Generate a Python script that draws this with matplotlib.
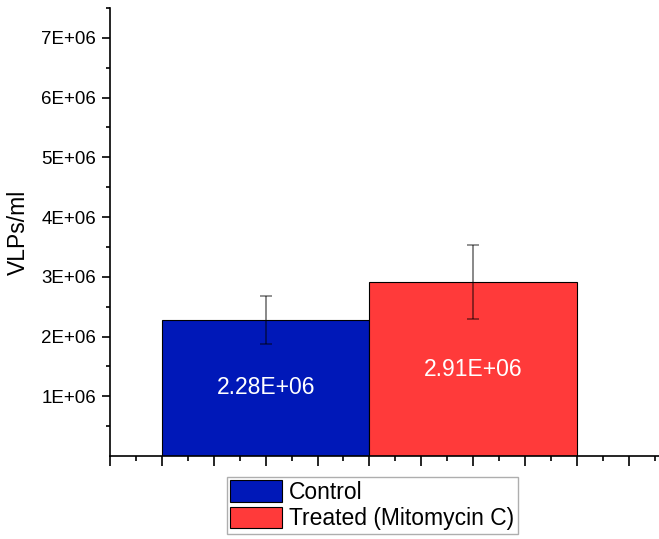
import matplotlib
matplotlib.use("Agg")
import matplotlib.pyplot as plt
from matplotlib.ticker import MultipleLocator, FixedLocator, FuncFormatter

plt.rcParams['font.family'] = ['Liberation Sans', 'DejaVu Sans']

# VLP counts per group
groups = ["Control", "Treated (Mitomycin C)"]
means = [2.28e6, 2.91e6]
errors = [0.40e6, 0.62e6]
labels = ["2.28E+06", "2.91E+06"]
colors = ["#0018B8", "#FF3A3A"]
positions = [1, 2]

fig = plt.figure(figsize=(6.59, 5.39), dpi=100)
ax = fig.add_axes([110/659, 83/539, 549/659, 448/539])

bars = ax.bar(positions, means, width=1.0, color=colors, edgecolor="black",
              linewidth=0.8, zorder=2)
for b, g in zip(bars, groups):
    b.set_label(g)

eb = ax.errorbar(positions, means, yerr=errors, fmt="none", ecolor=(0, 0, 0, 0.5),
                 elinewidth=1.3, capsize=4.5, capthick=1.2, zorder=3)
for cap in eb[1]:
    cap.set_color("#222222")

for x, m, t in zip(positions, means, labels):
    ax.text(x, m / 2, t, color="white", fontsize=16.5, ha="center", va="center", zorder=4)

ax.set_xlim(0.25, 0.25 + 549/207.5)
ax.set_ylim(0, 7.5e6)

ax.spines["top"].set_visible(False)
ax.spines["right"].set_visible(False)
ax.spines["left"].set_linewidth(1.2)
ax.spines["bottom"].set_linewidth(1.2)

ax.yaxis.set_major_locator(FixedLocator([1e6, 2e6, 3e6, 4e6, 5e6, 6e6, 7e6]))
ax.yaxis.set_minor_locator(FixedLocator([0.5e6, 1.5e6, 2.5e6, 3.5e6, 4.5e6, 5.5e6, 6.5e6, 7.5e6]))
ax.yaxis.set_major_formatter(FuncFormatter(lambda v, p: f"{v/1e6:.0f}E+06"))
ax.xaxis.set_major_locator(MultipleLocator(0.25))
ax.xaxis.set_minor_locator(MultipleLocator(0.125))
ax.xaxis.set_major_formatter(FuncFormatter(lambda v, p: ""))

ax.tick_params(axis="y", which="major", length=6, width=1.2, labelsize=13.5, pad=4)
ax.tick_params(axis="y", which="minor", length=3, width=1.2)
ax.tick_params(axis="x", which="major", length=7, width=1.2)
ax.tick_params(axis="x", which="minor", length=3.5, width=1.2)

ax.set_ylabel("VLPs/ml", fontsize=16.5)
ax.yaxis.set_label_coords(-80/549, 0.5)

leg = fig.legend(handles=list(bars), loc="upper left",
                 bbox_to_anchor=(227/659, 1 - 477/539), fontsize=16.5,
                 frameon=True, fancybox=False, edgecolor="#9a9a9a",
                 handlelength=2.27, handleheight=1.05, handletextpad=0.3,
                 labelspacing=0.12, borderpad=0.15, borderaxespad=0)
leg.get_frame().set_linewidth(1.0)

fig.savefig("out.png", dpi=100)
